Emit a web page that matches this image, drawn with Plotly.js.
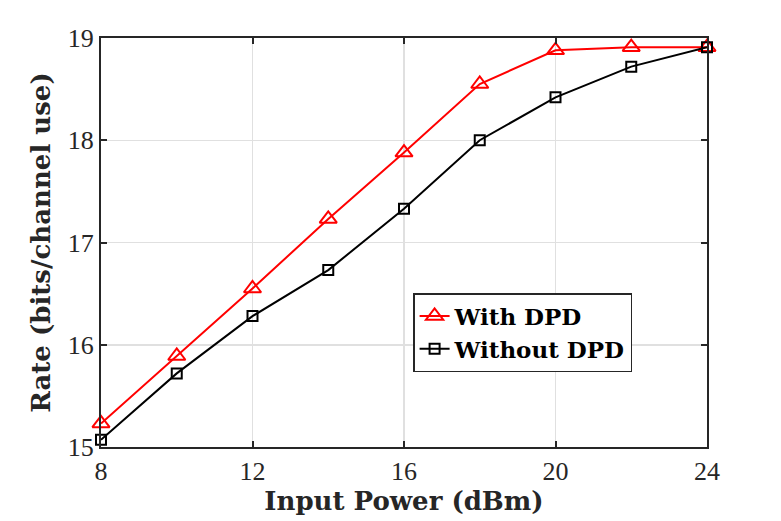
<!DOCTYPE html>
<html>
<head>
<meta charset="utf-8">
<script src="https://cdn.plot.ly/plotly-3.0.1.min.js"></script>
<style>html,body{margin:0;padding:0;background:#fff;}#chart{width:781px;height:521px;}</style>
</head>
<body>
<div id="chart"></div>
<script>
var inputPower = [8, 10, 12, 14, 16, 18, 20, 22, 24];
var withDPD = [15.23, 15.89, 16.55, 17.23, 17.88, 18.55, 18.88, 18.91, 18.91];
var withoutDPD = [15.07, 15.72, 16.28, 16.73, 17.33, 18.00, 18.42, 18.72, 18.91];
var xTicks = [8, 12, 16, 20, 24];
var yTicks = [15, 16, 17, 18, 19];

var boldSerif = '"DejaVu Serif", "Liberation Serif", serif';
var tickSerif = '"Liberation Serif", "DejaVu Serif", serif';
var traces = [
  {x: inputPower, y: withDPD, name: 'With DPD', mode: 'lines+markers',
   line: {color: '#ff0000', width: 2},
   marker: {symbol: 'triangle-up-open', size: 15, color: '#ff0000', line: {width: 2, color: '#ff0000'}},
   cliponaxis: false},
  {x: inputPower, y: withoutDPD, name: 'Without DPD', mode: 'lines+markers',
   line: {color: '#000000', width: 2},
   marker: {symbol: 'square-open', size: 10, color: '#000000', line: {width: 2, color: '#000000'}},
   cliponaxis: false}
];
var layout = {
  width: 781, height: 521,
  margin: {l: 101, r: 74, t: 38, b: 74},
  paper_bgcolor: '#fff', plot_bgcolor: '#fff',
  showlegend: true,
  legend: {x: 0.515, y: 0.3765, xanchor: 'left', yanchor: 'top',
    bgcolor: '#fff', bordercolor: '#262626', borderwidth: 1.5,
    font: {family: boldSerif, size: 23, color: '#000', weight: 'bold'},
    tracegroupgap: 0, itemwidth: 30},
  xaxis: {
    range: [8, 24], tickvals: xTicks, ticktext: xTicks.map(String),
    showgrid: true, gridcolor: '#e0e0e0', gridwidth: 1.5,
    showline: true, linecolor: '#262626', linewidth: 2, mirror: 'ticks',
    ticks: 'inside', ticklen: 6, tickwidth: 2, tickcolor: '#262626',
    tickfont: {family: tickSerif, size: 26, color: '#262626'},
    zeroline: false,
    title: {text: 'Input Power (dBm)', font: {family: boldSerif, size: 26, color: '#262626', weight: 'bold'}, standoff: 6}
  },
  yaxis: {
    range: [15, 19], tickvals: yTicks, ticktext: yTicks.map(String),
    showgrid: true, gridcolor: '#e0e0e0', gridwidth: 1.5,
    showline: true, linecolor: '#262626', linewidth: 2, mirror: 'ticks',
    ticks: 'inside', ticklen: 6, tickwidth: 2, tickcolor: '#262626',
    tickfont: {family: tickSerif, size: 26, color: '#262626'},
    zeroline: false,
    title: {text: 'Rate (bits/channel use)', font: {family: boldSerif, size: 26, color: '#262626', weight: 'bold'}, standoff: 10}
  }
};
Plotly.newPlot('chart', traces, layout, {staticPlot: true, displayModeBar: false});
</script>
</body>
</html>
